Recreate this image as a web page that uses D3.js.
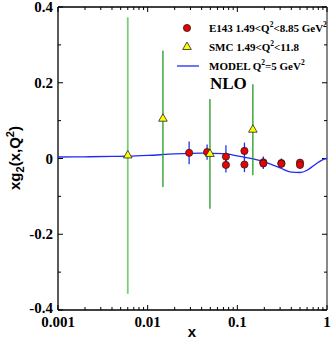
<!DOCTYPE html>
<html><head><meta charset="utf-8">
<script src="https://cdn.jsdelivr.net/npm/d3@7"></script>
<style>body{margin:0;background:#fff}svg{display:block}</style>
</head><body>
<script>
// E143 data
const e143X = [0.029, 0.046, 0.0746, 0.0746, 0.12, 0.12, 0.195, 0.195, 0.31, 0.31, 0.5, 0.5];
const e143Y = [0.015, 0.017, 0.005, -0.017, 0.020, -0.016, -0.010, -0.013, -0.012, -0.014, -0.011, -0.017];
const e143Err = [0.030, 0.020, 0.030, 0.020, 0.022, 0.020, 0.015, 0.015, 0.012, 0.012, 0.010, 0.010];
// SMC data
const smcX = [0.006, 0.0148, 0.0495, 0.149];
const smcY = [0.008, 0.105, 0.012, 0.076];
const smcErr = [0.365, 0.18, 0.145, 0.12];
// Model NLO curve Q^2 = 5 GeV^2
const modelX = [0.001, 0.002, 0.004, 0.006, 0.01, 0.02, 0.04, 0.07, 0.1, 0.15, 0.2, 0.3, 0.4, 0.5, 0.6, 0.7, 0.8, 0.9, 1.0];
const modelY = [0.004, 0.0045, 0.0055, 0.006, 0.008, 0.012, 0.014, 0.013, 0.007, -0.001, -0.009, -0.025, -0.036, -0.037, -0.031, -0.02, -0.01, -0.003, 0.0];
const xTicks = [0.001, 0.01, 0.1, 1];
const xTickLabels = ["0.001", "0.01", "0.1", "1"];
const yTicks = [-0.4, -0.2, 0, 0.2, 0.4];
const yTickLabels = ["-0.4", "-0.2", "0", "0.2", "0.4"];

const W = 332, H = 341;
const L = 58, R = 327, T = 7, B = 310;
const svg = d3.select("body").append("svg").attr("width", W).attr("height", H);
const x = d3.scaleLog().domain([0.001, 1]).range([L, R]);
const y = d3.scaleLinear().domain([-0.4, 0.4]).range([B, T]);
const serif = "'Liberation Serif','Times New Roman',serif";

// minor ticks
const minorX = [];
[0.001, 0.01, 0.1].forEach(d => { for (let k = 2; k <= 9; k++) minorX.push(d * k); });
const minorY = d3.range(-0.3, 0.31, 0.2);

const g = svg.append("g");
// axes frame
g.append("line").attr("x1", L).attr("x2", R).attr("y1", B).attr("y2", B).attr("stroke", "#000").attr("stroke-width", 1.3);
g.append("line").attr("x1", L).attr("x2", R).attr("y1", T).attr("y2", T).attr("stroke", "#000").attr("stroke-width", 1.3);
g.append("line").attr("x1", L).attr("x2", L).attr("y1", T).attr("y2", B).attr("stroke", "#000").attr("stroke-width", 1.3);
g.append("line").attr("x1", R).attr("x2", R).attr("y1", T).attr("y2", B).attr("stroke", "#888").attr("stroke-width", 2);

// x ticks bottom & top
xTicks.forEach(d => {
  g.append("line").attr("x1", x(d)).attr("x2", x(d)).attr("y1", B).attr("y2", B - 5).attr("stroke", "#000");
  g.append("line").attr("x1", x(d)).attr("x2", x(d)).attr("y1", T).attr("y2", T + 5).attr("stroke", "#000");
});
minorX.forEach(d => {
  g.append("line").attr("x1", x(d)).attr("x2", x(d)).attr("y1", B).attr("y2", B - 3).attr("stroke", "#000");
  g.append("line").attr("x1", x(d)).attr("x2", x(d)).attr("y1", T).attr("y2", T + 3).attr("stroke", "#000");
});
// y ticks
yTicks.forEach(d => {
  g.append("line").attr("x1", L).attr("x2", L + 5).attr("y1", y(d)).attr("y2", y(d)).attr("stroke", "#000");
  g.append("line").attr("x1", R).attr("x2", R - 5).attr("y1", y(d)).attr("y2", y(d)).attr("stroke", "#000");
});
minorY.forEach(d => {
  g.append("line").attr("x1", L).attr("x2", L + 3).attr("y1", y(d)).attr("y2", y(d)).attr("stroke", "#000");
  g.append("line").attr("x1", R).attr("x2", R - 3).attr("y1", y(d)).attr("y2", y(d)).attr("stroke", "#000");
});

// tick labels
yTicks.forEach((d, i) => {
  g.append("text").attr("x", L - 5).attr("y", y(d) + 5 - (d === -0.4 ? 2 : 0)).attr("text-anchor", "end")
    .attr("font-family", serif).attr("font-weight", "bold").attr("font-size", 15).text(yTickLabels[i]);
});
xTicks.forEach((d, i) => {
  g.append("text").attr("x", x(d)).attr("y", B + 17).attr("text-anchor", "middle")
    .attr("font-family", serif).attr("font-weight", "bold").attr("font-size", 15).text(xTickLabels[i]);
});
// axis titles
svg.append("text").attr("x", 192).attr("y", 337).attr("text-anchor", "middle")
  .attr("font-family", "'Liberation Sans',Arial,sans-serif").attr("font-weight", "bold").attr("font-size", 15).text("x");
const yl = svg.append("text").attr("transform", "translate(20,158) rotate(-90)").attr("text-anchor", "middle")
  .attr("font-family", "'Liberation Sans',Arial,sans-serif").attr("font-weight", "bold").attr("font-size", 15);
yl.append("tspan").text("xg");
yl.append("tspan").attr("font-size", 11).attr("dy", 4).text("2");
yl.append("tspan").attr("dy", -4).text("(x,Q");
yl.append("tspan").attr("font-size", 11).attr("dy", -6).text("2");
yl.append("tspan").attr("dy", 6).text(")");

// model line
const line = d3.line().x((d, i) => x(modelX[i])).y((d, i) => y(modelY[i])).curve(d3.curveMonotoneX);
svg.append("path").datum(modelY).attr("d", line).attr("fill", "none").attr("stroke", "#1f2cf5").attr("stroke-width", 1.3);

// SMC error bars
smcX.forEach((d, i) => {
  svg.append("line").attr("x1", x(d)).attr("x2", x(d)).attr("y1", y(smcY[i] + smcErr[i])).attr("y2", y(smcY[i] - smcErr[i]))
    .attr("stroke", i === 0 ? "#7ccc7c" : "#229922").attr("stroke-width", i === 0 ? 1.8 : 1.3);
});
// E143 error bars
e143X.forEach((d, i) => {
  svg.append("line").attr("x1", x(d)).attr("x2", x(d)).attr("y1", y(e143Y[i] + e143Err[i])).attr("y2", y(e143Y[i] - e143Err[i]))
    .attr("stroke", "#2233ee").attr("stroke-width", 1.3);
});
// E143 markers
e143X.forEach((d, i) => {
  svg.append("circle").attr("cx", x(d)).attr("cy", y(e143Y[i])).attr("r", 3.6)
    .attr("fill", "#ee0000").attr("stroke", "#222").attr("stroke-width", 0.8);
});
// SMC markers
const tri = d3.symbol().type(d3.symbolTriangle).size(32);
smcX.forEach((d, i) => {
  svg.append("path").attr("d", tri).attr("transform", `translate(${x(d)},${y(smcY[i])})`)
    .attr("fill", "#ffff00").attr("stroke", "#222").attr("stroke-width", 0.8);
});

// legend
svg.append("circle").attr("cx", 187).attr("cy", 28).attr("r", 3.6).attr("fill", "#ee0000").attr("stroke", "#222").attr("stroke-width", 0.8);
svg.append("path").attr("d", tri).attr("transform", "translate(187,47)").attr("fill", "#ffff00").attr("stroke", "#222").attr("stroke-width", 0.8);
svg.append("line").attr("x1", 177).attr("x2", 199).attr("y1", 66).attr("y2", 66).attr("stroke", "#1f2cf5").attr("stroke-width", 1.3);
function legText(yy, parts) {
  const t = svg.append("text").attr("x", 209).attr("y", yy)
    .attr("font-family", serif).attr("font-weight", "bold").attr("font-size", 11);
  parts.forEach(p => {
    const s = t.append("tspan").text(p[0]);
    if (p[1]) s.attr("dy", p[1]);
    if (p[2]) s.attr("font-size", 7.5);
  });
}
legText(32, [["E143  1.49<Q"], ["2", -5, true], ["<8.85 GeV", 5], ["2", -5, true]]);
legText(51, [["SMC  1.49<Q"], ["2", -5, true], ["<11.8", 5]]);
legText(70, [["MODEL Q"], ["2", -5, true], ["=5 GeV", 5], ["2", -5, true]]);
svg.append("text").attr("x", 210).attr("y", 89).attr("font-family", serif).attr("font-weight", "bold").attr("font-size", 17).text("NLO");
</script>
</body></html>
